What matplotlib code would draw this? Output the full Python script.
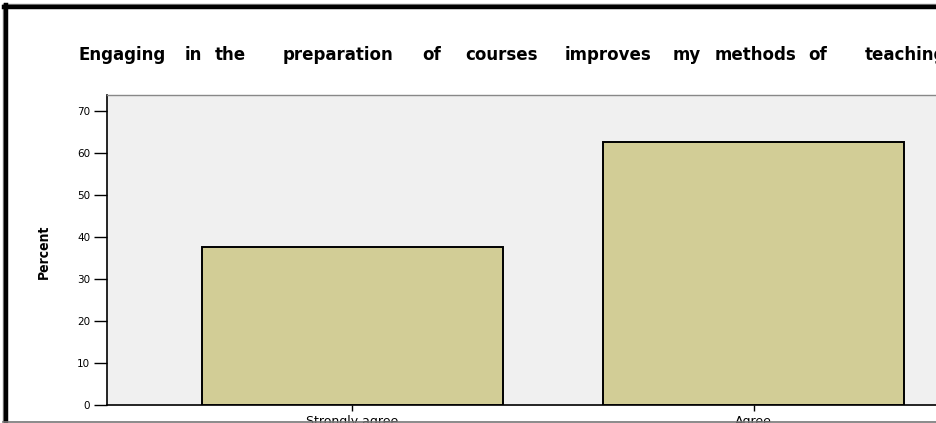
import matplotlib
matplotlib.use("Agg")
import matplotlib.pyplot as plt
from matplotlib.lines import Line2D

categories = ["Strongly agree", "Agree"]
percents = [37.5, 62.5]
yticks = [0, 10, 20, 30, 40, 50, 60, 70]
title_words = ["Engaging", "in", "the", "preparation", "of", "courses",
               "improves", "my", "methods", "of", "teaching"]
title_word_center_px = [122, 193, 230, 338, 432, 501, 608, 687, 755, 818, 905]

W, H = 936, 423
fig = plt.figure(figsize=(W / 100, H / 100), dpi=100)
fig.patch.set_facecolor("white")

def fx(px):
    return px / W

def fy(py):
    return 1 - py / H

# outer frame
fig.add_artist(Line2D([fx(3), fx(3)], [fy(4), fy(421)], color="#888888", lw=1.0))
fig.add_artist(Line2D([fx(3), fx(936)], [fy(4), fy(4)], color="#888888", lw=1.0))
fig.add_artist(Line2D([fx(6), fx(6)], [fy(5), fy(421)], color="black", lw=3.2))
fig.add_artist(Line2D([fx(4), fx(936)], [fy(7), fy(7)], color="black", lw=3.2))
fig.add_artist(Line2D([fx(3), fx(936)], [fy(421.5), fy(421.5)], color="#777777", lw=1.2))

left, right, top, bottom = 107, 999, 95, 405
ax = fig.add_axes([fx(left), fy(bottom), fx(right - left), (bottom - top) / H])
ax.set_facecolor("#F0F0F0")

x = list(range(len(categories)))
ax.bar(x, percents, width=0.75, color="#D2CD96", edgecolor="black", linewidth=1.4, zorder=3)
ax.set_xlim(-0.612, 1.612)
ax.set_ylim(0, 73.8)

ax.set_yticks(yticks)
ax.set_yticklabels([str(v) for v in yticks], fontsize=7.5, family="DejaVu Sans")
ax.set_xticks(x)
ax.set_xticklabels(categories, fontsize=9, family="DejaVu Sans")
ax.tick_params(axis="y", length=9.5, width=1.0, pad=2.5, direction="out")
ax.tick_params(axis="x", length=4, width=1.0, pad=3.5, direction="out")

for s in ["left", "bottom"]:
    ax.spines[s].set_color("black")
    ax.spines[s].set_linewidth(1.2)
ax.spines["top"].set_color("#888888")
ax.spines["top"].set_linewidth(1.0)
ax.spines["right"].set_visible(False)

fig.text(fx(44), fy(252), "Percent", fontsize=10, fontweight="bold",
         family="DejaVu Sans", fontstretch="condensed", rotation=90,
         ha="center", va="center")

for w, px in zip(title_words, title_word_center_px):
    fig.text(fx(px), fy(55), w, fontsize=12, fontweight="bold",
             family="DejaVu Sans", ha="center", va="center")

fig.savefig("out.png", dpi=100)
